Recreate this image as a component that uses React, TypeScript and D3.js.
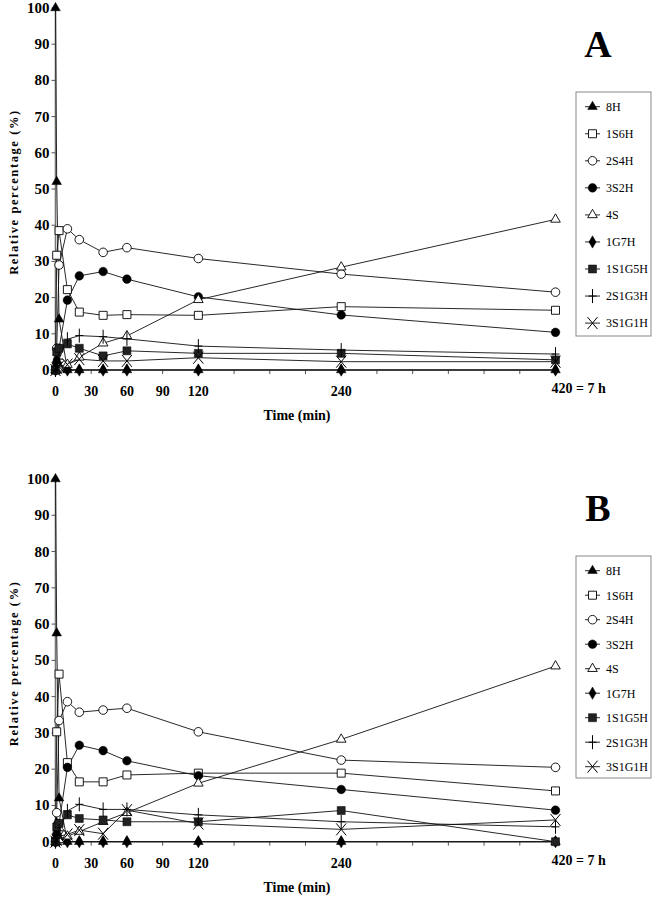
import React from 'react';
import * as d3 from 'd3';

// ---------- data ----------
const times = [0, 1, 3, 10, 20, 40, 60, 120, 240, 420];
const seriesNames = ['8H', '1S6H', '2S4H', '3S2H', '4S', '1G7H', '1S1G5H', '2S1G3H', '3S1G1H'];
const markerTypes = ['triFill', 'squareOpen', 'circleOpen', 'circleFill', 'triOpen', 'diamondFill', 'squareFill', 'plus', 'cross'];
const markerDrawOrder = [5, 0, 1, 2, 3, 4, 6, 7, 8];

// Panel A
const a8H = [100, 52, 14, 0, 0, 0, 0, 0, 0, 0];
const a1S6H = [0, 31.7, 38.5, 22.2, 16, 15.1, 15.3, 15.1, 17.5, 16.5];
const a2S4H = [0, 6, 29, 39, 36, 32.5, 33.8, 30.8, 26.5, 21.5];
const a3S2H = [0, 2, 6, 19.3, 26, 27.2, 25.1, 20.2, 15.2, 10.4];
const a4S = [0, 0, 0.5, 1.5, 3.5, 7.4, 9.4, 19.4, 28.4, 41.6];
const a1G7H = [0, 3, 1, 0, 0, 0, 0, 0, 0, 0];
const a1S1G5H = [0, 5, 6, 7.2, 6, 3.9, 5.3, 4.6, 4.6, 2.8];
const a2S1G3H = [0, 1, 3, 8.5, 9.5, 9.2, 8.6, 6.6, 5.5, 4.4];
const a3S1G1H = [0, 0.5, 1, 1.5, 3, 2.5, 2.5, 3.4, 2.3, 2.3];

// Panel B
const b8H = [100, 57.5, 12, 0, 0, 0, 0, 0, 0, 0];
const b1S6H = [0, 30.3, 46.2, 21.8, 16.5, 16.5, 18.4, 18.9, 18.9, 14];
const b2S4H = [0, 8, 33.4, 38.6, 35.7, 36.3, 36.8, 30.3, 22.5, 20.5];
const b3S2H = [0, 2, 5, 20.5, 26.6, 25.1, 22.3, 18.2, 14.4, 8.7];
const b4S = [0, 0, 0.5, 1.5, 2.8, 5.5, 8, 16.1, 28.2, 48.4];
const b1G7H = [0, 5, 1, 0, 0, 0, 0, 0, 0, 0];
const b1S1G5H = [0, 4, 5, 7.4, 6.4, 6, 5.5, 5.5, 8.6, 0];
const b2S1G3H = [0, 1, 3, 8.5, 10.3, 8.9, 8.9, 7.4, 5.5, 4.1];
const b3S1G1H = [0, 0.5, 1.5, 2, 3.2, 2.2, 8.7, 5, 3.4, 6];

const yTicks = [0, 10, 20, 30, 40, 50, 60, 70, 80, 90, 100];
const xTicks = [0, 30, 60, 90, 120, 150, 180, 210, 240, 270, 300, 330, 360, 390, 420];
const xLabelled = [0, 30, 60, 90, 120, 240];
const lastXLabel = '420 = 7 h';
const xTitle = 'Time (min)';
const yTitle = 'Relative percentage (%)';

const panelASeries = [a8H, a1S6H, a2S4H, a3S2H, a4S, a1G7H, a1S1G5H, a2S1G3H, a3S1G1H];
const panelBSeries = [b8H, b1S6H, b2S4H, b3S2H, b4S, b1G7H, b1S1G5H, b2S1G3H, b3S1G1H];

// ---------- drawing ----------
const FONT = '"Liberation Serif", "Times New Roman", serif';
const x = d3.scaleLinear().domain([0, 420]).range([55.5, 555.5]);

const symTri = d3.symbol().type(d3.symbolTriangle).size(40)() as string;
const symSq = d3.symbol().type(d3.symbolSquare).size(64)() as string;
const symCirc = d3.symbol().type(d3.symbolCircle).size(58)() as string;
const symDia = d3.symbol().type(d3.symbolDiamond).size(44)() as string;

function Marker({ type, cx, cy }: { type: string; cx: number; cy: number }) {
  const t = `translate(${cx},${cy})`;
  const sw = 0.9;
  switch (type) {
    case 'triFill':
      return <path d={symTri} transform={t} fill="#000" stroke="#000" strokeWidth={0.5} />;
    case 'triOpen':
      return <path d={symTri} transform={t} fill="#fff" stroke="#000" strokeWidth={sw} />;
    case 'squareOpen':
      return <path d={symSq} transform={t} fill="#fff" stroke="#000" strokeWidth={sw} />;
    case 'squareFill':
      return <path d={symSq} transform={t} fill="#222" stroke="#000" strokeWidth={0.5} />;
    case 'circleOpen':
      return <path d={symCirc} transform={t} fill="#fff" stroke="#000" strokeWidth={sw} />;
    case 'circleFill':
      return <path d={symCirc} transform={t} fill="#000" stroke="#000" strokeWidth={0.5} />;
    case 'diamondFill':
      return <path d={symDia} transform={t} fill="#000" stroke="#000" strokeWidth={0.5} />;
    case 'plus':
      return (
        <path d="M0,-7L0,7M-4,0L4,0" transform={t} stroke="#000" strokeWidth={1} fill="none" />
      );
    case 'cross':
      return (
        <path d="M-5,-6L5,6M-5,6L5,-6" transform={t} stroke="#000" strokeWidth={1} fill="none" />
      );
    default:
      return null;
  }
}

function Panel({
  series,
  y0,
  y100,
  letter,
  letterY,
  legendTop,
  legendFirst,
  legendStep,
  legendBottom,
}: {
  series: number[][];
  y0: number;
  y100: number;
  letter: string;
  letterY: number;
  legendTop: number;
  legendFirst: number;
  legendStep: number;
  legendBottom: number;
}) {
  const y = d3.scaleLinear().domain([0, 100]).range([y0, y100]);
  const line = d3
    .line<number>()
    .x((_, i) => x(times[i]))
    .y((d) => y(d));
  const legendX = 576;
  const legendW = 75;
  return (
    <g>
      {/* axes */}
      <line x1={x(0)} x2={x(0)} y1={y(0)} y2={y(100)} stroke="#777" strokeWidth={1.6} />
      <line x1={x(0)} x2={x(420)} y1={y(0)} y2={y(0)} stroke="#888" strokeWidth={1.6} />
      {yTicks.map((v) => (
        <g key={'yt' + v}>
          <line x1={x(0) - 4} x2={x(0)} y1={y(v)} y2={y(v)} stroke="#555" strokeWidth={1} />
          <text
            x={x(0) - 6}
            y={y(v) + 5}
            textAnchor="end"
            fontFamily={FONT}
            fontWeight="bold"
            fontSize={15}
          >
            {v}
          </text>
        </g>
      ))}
      {xTicks.map((v) => (
        <line key={'xt' + v} x1={x(v)} x2={x(v)} y1={y(0)} y2={y(0) + 4} stroke="#555" strokeWidth={1} />
      ))}
      {xLabelled.map((v) => (
        <text
          key={'xl' + v}
          x={x(v)}
          y={y(0) + 26}
          textAnchor="middle"
          fontFamily={FONT}
          fontWeight="bold"
          fontSize={14}
        >
          {v}
        </text>
      ))}
      <text x={x(420) - 4} y={y(0) + 23} textAnchor="start" fontFamily={FONT} fontWeight="bold" fontSize={14}>
        {lastXLabel}
      </text>
      <text x={297} y={y(0) + 50} textAnchor="middle" fontFamily={FONT} fontWeight="bold" fontSize={14}>
        {xTitle}
      </text>
      <text
        transform={`translate(18,${(y(0) + y(100)) / 2 + 3}) rotate(-90)`}
        textAnchor="middle"
        fontFamily={FONT}
        fontWeight="bold"
        fontSize={12.5}
        letterSpacing={1.6}
      >
        {yTitle}
      </text>

      {/* series lines */}
      {series.map((vals, si) => (
        <path key={'l' + si} d={line(vals) as string} fill="none" stroke="#111" strokeWidth={0.9} />
      ))}
      {/* markers */}
      {markerDrawOrder.map((si) =>
        series[si].map((v, i) => (
          <Marker key={`m${si}-${i}`} type={markerTypes[si]} cx={x(times[i])} cy={y(v)} />
        ))
      )}

      {/* panel letter */}
      <text x={598} y={letterY} textAnchor="middle" fontFamily={FONT} fontWeight="bold" fontSize={38}>
        {letter}
      </text>

      {/* legend */}
      <rect
        x={legendX}
        y={legendTop}
        width={legendW}
        height={legendBottom - legendTop}
        fill="#fff"
        stroke="#888"
        strokeWidth={1}
      />
      {seriesNames.map((name, i) => {
        const ly = legendFirst + i * legendStep;
        return (
          <g key={'lg' + i}>
            <line x1={585} x2={600} y1={ly} y2={ly} stroke="#111" strokeWidth={0.9} />
            <Marker type={markerTypes[i]} cx={592.5} cy={ly} />
            <text x={606} y={ly + 4.3} fontFamily={FONT} fontSize={12}>
              {name}
            </text>
          </g>
        );
      })}
    </g>
  );
}

export default function App() {
  return (
    <svg
      width={656}
      height={900}
      viewBox="0 0 656 900"
      style={{ position: 'absolute', left: 0, top: 0, background: '#fff' }}
    >
      <rect x={0} y={0} width={656} height={900} fill="#fff" />
      <Panel
        series={panelASeries}
        y0={370}
        y100={8}
        letter="A"
        letterY={57}
        legendTop={92}
        legendFirst={106.7}
        legendStep={27.05}
        legendBottom={336}
      />
      <Panel
        series={panelBSeries}
        y0={841.7}
        y100={479}
        letter="B"
        letterY={521}
        legendTop={556}
        legendFirst={570.7}
        legendStep={24.5}
        legendBottom={778}
      />
    </svg>
  );
}
